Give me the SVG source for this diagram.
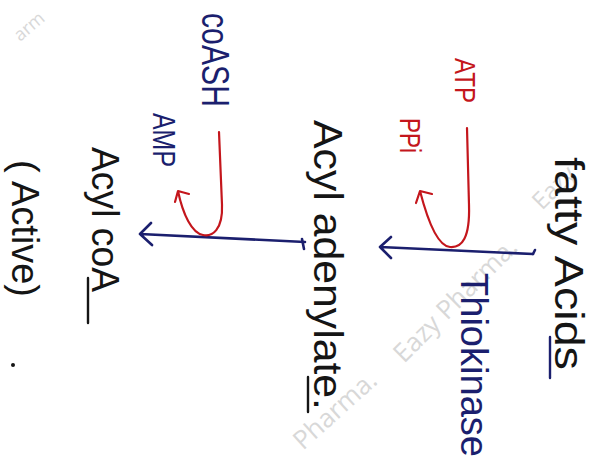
<svg xmlns="http://www.w3.org/2000/svg" width="599" height="461" viewBox="0 0 599 461">
<defs>
<style>
.t{font-family:"Liberation Sans","DejaVu Sans",sans-serif;}
.k{fill:#151515;}
.b{fill:#1b1f6e;}
.r{fill:#c4161c;}
.wm{font-family:"Open Sans","Liberation Sans",sans-serif;font-size:26px;fill:#d8d8d8;}
.bl{stroke:#1b1f6e;stroke-width:2.6;fill:none;stroke-linecap:round;stroke-linejoin:round;}
.rl{stroke:#c4161c;stroke-width:2.2;fill:none;stroke-linecap:round;stroke-linejoin:round;}
.ul{stroke:#151515;stroke-width:2.4;stroke-linecap:round;}
</style>
</defs>
<rect width="599" height="461" fill="#ffffff"/>
<g id="watermarks">
<text class="wm" transform="translate(404,364) rotate(-45)">Eazy Pharma.</text>
<text class="wm" transform="translate(303,451) rotate(-42)">Pharma.</text>
<text class="wm" transform="translate(542,211) rotate(-45)" style="font-size:24px">Eazy</text>
<text class="wm" transform="translate(20,42) rotate(-40)" style="font-size:18px">arm</text>
</g>
<g id="connectors">
<path class="bl" d="M533,254 L380,247 M391,237 L380,247 L391,258"/>
<path class="bl" d="M533,254 L535,250"/>
<path class="rl" d="M467,128 L469,205 C470,238 462,248 450,247 C438,246 428,222 420,191 M416,203 L420,191 L432,194"/>
<path class="bl" d="M305,242 L140,234 M151,223 L140,234 L152,245"/>
<path class="bl" d="M302,239 L304,249"/>
<path class="rl" d="M219,132 L222,205 C223,230 212,237 203,235 C192,233 183,215 178,191 M175,202 L178,191 L189,194"/>
</g>
<g id="fatty-acids">
<text class="t k" font-size="40" transform="translate(555,157) rotate(90)" textLength="213" lengthAdjust="spacingAndGlyphs">fatty Acids</text>
<line x1="550" y1="337" x2="550" y2="378" stroke="#1b1f6e" stroke-width="2.4" stroke-linecap="round"/>
</g>
<g id="thiokinase">
<text class="t b" font-size="38" transform="translate(461,273) rotate(90)" textLength="184" lengthAdjust="spacingAndGlyphs">Thiokinase</text>
</g>
<g id="atp">
<text class="t r" font-size="30" transform="translate(455,58) rotate(90)" textLength="45" lengthAdjust="spacingAndGlyphs">ATP</text>
</g>
<g id="ppi">
<text class="t r" font-size="30" transform="translate(400,118) rotate(90)" textLength="35" lengthAdjust="spacingAndGlyphs">PPi</text>
</g>
<g id="acyl-adenylate">
<text class="t k" font-size="40" transform="translate(314,120) rotate(90)" textLength="290" lengthAdjust="spacingAndGlyphs">Acyl adenylate.</text>
<line class="ul" x1="308" y1="377" x2="308" y2="412"/>
</g>
<g id="coash">
<text class="t b" font-size="38" transform="translate(202,13) rotate(90)" textLength="94" lengthAdjust="spacingAndGlyphs">coASH</text>
</g>
<g id="amp">
<text class="t b" font-size="32" transform="translate(153,113) rotate(90)" textLength="54" lengthAdjust="spacingAndGlyphs">AMP</text>
</g>
<g id="acyl-coa">
<text class="t k" font-size="38" transform="translate(92,147) rotate(90)" textLength="145" lengthAdjust="spacingAndGlyphs">Acyl coA</text>
<line class="ul" x1="88" y1="278" x2="88" y2="323"/>
</g>
<g id="active">
<text class="t k" font-size="38" transform="translate(12,160) rotate(90)" textLength="137" lengthAdjust="spacingAndGlyphs">( Active)</text>
<circle cx="13" cy="365" r="2" fill="#151515"/>
</g>
</svg>
